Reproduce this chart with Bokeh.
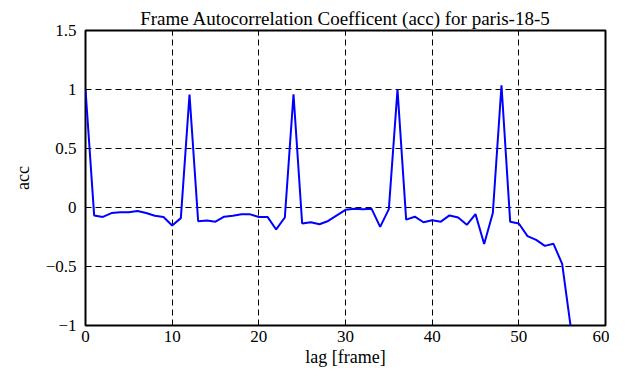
from bokeh.plotting import figure
from bokeh.models import LinearAxis, FixedTicker, Range1d, Title
from bokeh.embed import file_html
from bokeh.resources import INLINE

lag = list(range(0, 57))
acc = [1.0, -0.067, -0.08, -0.047, -0.04, -0.04, -0.03, -0.047, -0.07, -0.08,
       -0.153, -0.09, 0.958, -0.117, -0.11, -0.12, -0.078, -0.07, -0.058, -0.058,
       -0.08, -0.08, -0.186, -0.085, 0.96, -0.136, -0.125, -0.142, -0.114, -0.067,
       -0.02, -0.01, -0.014, -0.01, -0.164, -0.014, 1.0, -0.103, -0.078, -0.125,
       -0.108, -0.12, -0.067, -0.085, -0.147, -0.056, -0.31, -0.047, 1.036, -0.12,
       -0.136, -0.242, -0.275, -0.325, -0.308, -0.478, -1.02]

x_ticks = [0, 10, 20, 30, 40, 50, 60]
y_ticks = [-1, -0.5, 0, 0.5, 1, 1.5]
title_text = "Frame Autocorrelation Coefficent (acc) for paris-18-5"
x_label = "lag [frame]"
y_label = "acc"

FONT = "Liberation Serif"

p = figure(width=609, height=371, output_backend="svg", toolbar_location=None,
           x_range=Range1d(0, 60), y_range=Range1d(-1, 1.5),
           min_border_left=84, min_border_right=4, min_border_top=30, min_border_bottom=46)

p.title.text = title_text
p.title.text_font = FONT
p.title.text_font_size = "19px"
p.title.text_font_style = "normal"
p.title.text_color = "black"
p.title.align = "center"
p.title.standoff = 4

p.outline_line_color = "black"
p.outline_line_width = 2
p.background_fill_color = "white"
p.border_fill_color = "white"

p.line(lag, acc, line_color="#0000ff", line_width=2)

xa = p.below[0]
ya = p.left[0]
xa.ticker = FixedTicker(ticks=x_ticks)
ya.ticker = FixedTicker(ticks=y_ticks)
for ax in (xa, ya):
    ax.axis_line_color = None
    ax.major_tick_in = 5
    ax.major_tick_out = 0
    ax.minor_tick_line_color = None
    ax.major_tick_line_color = "black"
    ax.major_tick_line_width = 1
    ax.major_label_text_font = FONT
    ax.major_label_text_font_size = "17px"
    ax.major_label_text_font_style = "normal"
    ax.major_label_text_color = "black"
xa.major_label_standoff = 5
ya.major_label_standoff = 9

for loc, tk in (("right", y_ticks), ("above", x_ticks)):
    ax = LinearAxis(ticker=FixedTicker(ticks=tk), axis_line_color=None,
                    major_tick_in=5, major_tick_out=0, minor_tick_line_color=None,
                    major_label_text_font_size="0px", major_label_text_color=None,
                    major_tick_line_color="black")
    ax.major_label_standoff = 0
    p.add_layout(ax, loc)

# axis titles as serif Title objects outside the axes
p.add_layout(Title(text=x_label, align="center", text_font=FONT, text_font_size="18px",
                   text_font_style="normal", text_color="black", standoff=0), "below")
p.add_layout(Title(text=y_label, align="center", text_font=FONT, text_font_size="18px",
                   text_font_style="normal", text_color="black", standoff=20), "left")

p.xgrid.ticker = FixedTicker(ticks=x_ticks)
p.ygrid.ticker = FixedTicker(ticks=y_ticks)
for g in (p.xgrid[0], p.ygrid[0]):
    g.grid_line_color = "black"
    g.grid_line_dash = "6 4"
    g.grid_line_width = 1
    g.grid_line_alpha = 1.0

open("out.html", "w").write(file_html(p, INLINE))
